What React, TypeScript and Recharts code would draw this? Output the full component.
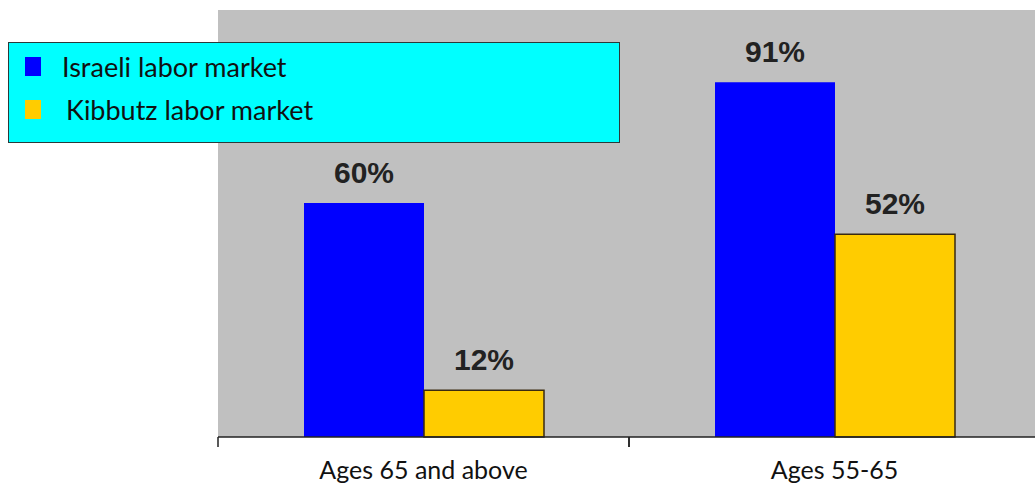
import { BarChart, Bar, XAxis, YAxis, CartesianGrid, LabelList, Legend } from 'recharts'

const ageGroups = ['Ages 65 and above', 'Ages 55-65']
const israeliMarket = [60, 91]
const kibbutzMarket = [12, 52]

const data = ageGroups.map((group, i) => ({
  group,
  israeli: israeliMarket[i],
  kibbutz: kibbutzMarket[i],
}))

const BAND = 411
const textFont = 'Lato, "Open Sans", sans-serif'

const AxisTick = (props: any) => {
  const { x, y, payload } = props
  return (
    <g>
      <line x1={x - BAND / 2} y1={y - 8} x2={x - BAND / 2} y2={y + 2} stroke="#222" strokeWidth={1.5} />
      <line x1={x + BAND / 2} y1={y - 8} x2={x + BAND / 2} y2={y + 2} stroke="#222" strokeWidth={1.5} />
      <text x={x} y={y + 34} textAnchor="middle" fontSize={25} fontFamily={textFont} fill="#111">
        {payload.value}
      </text>
    </g>
  )
}

const LegendBox = ({ payload }: any) => (
  <div
    style={{
      width: 612,
      height: 101,
      background: '#00ffff',
      border: '1.5px solid #2a3a3a',
      boxSizing: 'border-box',
      fontFamily: textFont,
      fontSize: 27,
      color: '#111',
      paddingTop: 2,
      textAlign: 'left',
    }}
  >
    {(payload || []).map((item: any, i: number) => (
      <div key={item.value} style={{ display: 'flex', alignItems: 'center', height: 43 }}>
        <span
          style={{
            display: 'inline-block',
            width: 16,
            height: 19,
            background: item.color,
            marginLeft: 16,
            marginRight: i === 0 ? 21 : 25,
          }}
        />
        <span>{item.value}</span>
      </div>
    ))}
  </div>
)

export default function App() {
  return (
    <div style={{ position: 'absolute', left: 0, top: 0, width: 1035, height: 489, overflow: 'hidden', background: '#fff' }}>
      <BarChart
        width={1045}
        height={489}
        data={data}
        margin={{ top: 10, right: 5, left: 218, bottom: 0 }}
        barGap={0}
        barSize={120}
      >
        <CartesianGrid horizontal={false} vertical={false} fill="#c0c0c0" />
        <XAxis
          dataKey="group"
          height={52}
          tickLine={false}
          axisLine={{ stroke: '#222', strokeWidth: 1.5 }}
          tick={<AxisTick />}
          interval={0}
        />
        <YAxis hide domain={[0, 109.5]} />
        <Legend
          content={<LegendBox />}
          layout="vertical"
          verticalAlign="middle"
          align="center"
          wrapperStyle={{ position: 'absolute', left: 8, top: 42, width: 612 }}
        />
        <Bar dataKey="israeli" name="Israeli labor market" fill="#0000ff" isAnimationActive={false}>
          <LabelList
            dataKey="israeli"
            position="top"
            offset={20}
            formatter={(v: any) => `${v}%`}
            fontSize={30}
            fontWeight="bold"
            fontFamily='"Liberation Sans", Arial, sans-serif'
            fill="#222"
          />
        </Bar>
        <Bar dataKey="kibbutz" name="Kibbutz labor market" fill="#ffcc00" stroke="#3a2a10" strokeWidth={1.5} isAnimationActive={false}>
          <LabelList
            dataKey="kibbutz"
            position="top"
            offset={20}
            formatter={(v: any) => `${v}%`}
            fontSize={30}
            fontWeight="bold"
            fontFamily='"Liberation Sans", Arial, sans-serif'
            fill="#222"
          />
        </Bar>
      </BarChart>
    </div>
  )
}
